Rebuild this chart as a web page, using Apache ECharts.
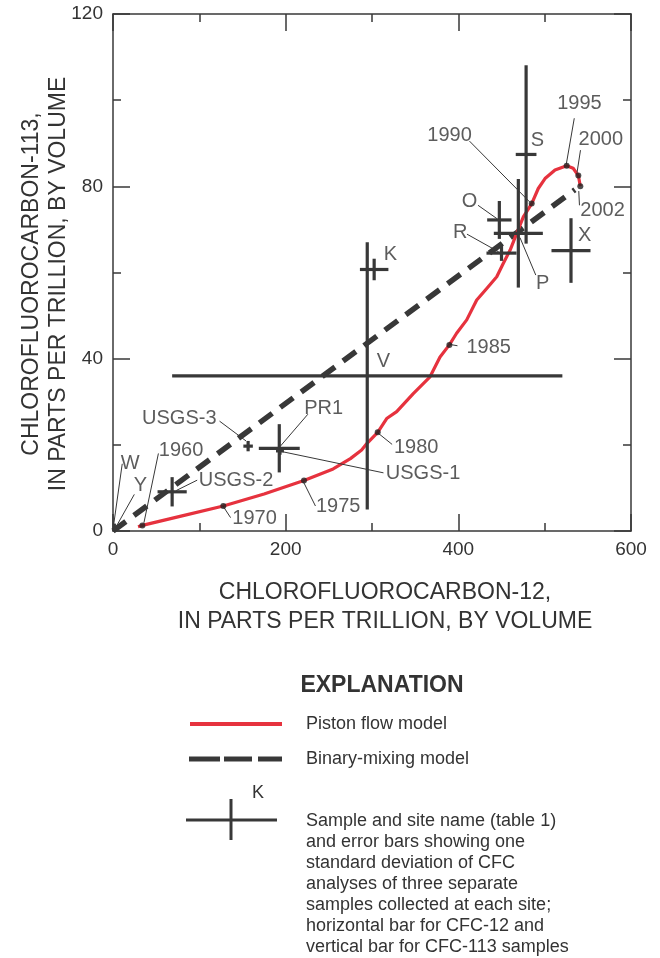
<!DOCTYPE html>
<html>
<head>
<meta charset="utf-8">
<script src="https://cdn.jsdelivr.net/npm/echarts@6/dist/echarts.min.js"></script>
<style>
html,body{margin:0;padding:0;background:#fff;}
#chart{width:660px;height:958px;}
</style>
</head>
<body>
<div id="chart"></div>
<script>
// ---------- DATA ----------
const xTickValues = [0, 200, 400, 600];
const yTickValues = [0, 40, 80, 120];

// Piston flow model curve (CFC-12, CFC-113)
const pistonCFC12  = [29, 34, 80, 127.8, 175, 221.2, 255, 275, 288, 294, 306.6, 317, 328.6, 347.8, 367.2, 378.8, 389.6, 398, 409.7, 421.3, 432.9, 444.5, 452, 460, 467.6, 475.3, 485, 492.6, 500.4, 512, 525.5, 533, 539, 541.3];
const pistonCFC113 = [1.0, 1.3, 3.5, 5.8, 8.6, 11.7, 14.4, 16.8, 18.8, 20.3, 22.9, 26.1, 27.7, 31.9, 35.8, 40.4, 43.2, 45.9, 49.0, 53.6, 56.3, 59.0, 62.1, 65.2, 69.1, 72.9, 76.0, 79.5, 81.8, 83.8, 84.8, 84.2, 82.5, 80.0];

// Year markers on the piston flow curve
const yearNames  = ['1960', '1970', '1975', '1980', '1985', '1990', '1995', '2000', '2002'];
const yearCFC12  = [34, 127.8, 221.2, 306.6, 389.6, 485, 525.5, 539, 541.3];
const yearCFC113 = [1.3, 5.8, 11.7, 22.9, 43.2, 76.0, 84.8, 82.5, 80.0];

// Binary-mixing model line
const binaryCFC12  = [0, 535];
const binaryCFC113 = [0, 79.2];

// Samples with one-standard-deviation error bars
const sampleNames  = ['K', 'V', 'S', 'O', 'P', 'R', 'X', 'PR1', 'USGS-1', 'USGS-3', 'USGS-2', 'W', 'Y'];
const sampleCFC12  = [302.5, 294.5, 478.5, 447.5, 469.5, 450, 530.5, 192.6, 193.4, 156.5, 68.5, 1.5, 2.5];
const sampleCFC113 = [60.7, 36, 87.4, 72.2, 69.1, 64.5, 65.1, 19.2, 18.6, 19.7, 9.1, 1.3, 0.5];
const sampleErr12  = [16.5, 226, 12, 14.1, 28.4, 17.4, 22.6, 23.7, 4.6, 5.5, 16.9, 1.5, 1.5];
const sampleErr113 = [2.5, 31, 20.7, 4.4, 12.6, 1.8, 7.5, 5.6, 0.9, 1.2, 3.4, 0.4, 0.4];

// Annotation labels (text, position in data units)
const labelTexts = ['1995', '2000', '2002', '1990', 'S', 'O', 'R', 'P', 'X', 'K', 'V', '1985', 'USGS-3', 'PR1', '1960', 'W', 'Y', 'USGS-2', '1980', 'USGS-1', '1975', '1970'];
const labelCFC12  = [540.3, 565, 567, 389.8, 491.7, 412.9, 402.1, 497.7, 546.3, 321.3, 313.3, 435.2, 76.8, 244, 78.8, 19.9, 31.9, 142.5, 351.2, 359.1, 260.8, 164];
const labelCFC113 = [99.3, 90.9, 74.3, 91.7, 90.6, 76.4, 69.4, 57.4, 68.5, 64.1, 39.3, 42.6, 26.2, 28.4, 18.7, 15.6, 10.6, 11.8, 19.5, 13.3, 5.6, 3.0];

// Leader lines (from label to point)
const leaderFrom12  = [534.3, 541.5, 539.5, 412.9, 422.8, 410, 489.7, 399, 123.4, 225.7, 52.6, 10.7, 24.7, 97.5, 323.3, 313.3, 234.5, 136.2];
const leaderFrom113 = [95.8, 88.4, 78.9, 90.5, 75.6, 68.9, 59.4, 43.0, 25.5, 27.1, 18.0, 15.6, 8.5, 11.8, 20.1, 13.5, 5.8, 3.1];
const leaderTo12    = [525.1, 537.5, 540.3, 482.5, 444.7, 446.7, 471.4, 390.2, 154.1, 193.9, 35.8, 0.8, 2.8, 73.3, 306.6, 193.9, 220.6, 127.4];
const leaderTo113   = [85.2, 83.2, 75.6, 76.4, 72.5, 64.8, 68.1, 43.3, 20.9, 19.7, 1.9, 1.5, 0.7, 9.4, 22.8, 18.5, 11.4, 5.8];

// ---------- CHART ----------
const INK = '#383838';
const RED = '#e6323e';
const FONT = '"Liberation Sans", Arial, sans-serif';

const chart = echarts.init(document.getElementById('chart'), null, {renderer: 'canvas'});

const pistonData = pistonCFC12.map((x, i) => [x, pistonCFC113[i]]);
const yearData = yearCFC12.map((x, i) => [x, yearCFC113[i], yearNames[i]]);
const binaryData = binaryCFC12.map((x, i) => [x, binaryCFC113[i]]);
const sampleData = sampleNames.map((n, i) => [sampleCFC12[i], sampleCFC113[i], sampleErr12[i], sampleErr113[i], n]);
const labelData = labelTexts.map((t, i) => ({value: [labelCFC12[i], labelCFC113[i]], name: t}));
const leaderData = leaderFrom12.map((x, i) => ({coords: [[x, leaderFrom113[i]], [leaderTo12[i], leaderTo113[i]]]}));

function axisCommon(showLabels, position, isX) {
  return {
    type: 'value',
    position: position,
    min: 0,
    max: isX ? 600 : 120,
    interval: isX ? 200 : 40,
    axisLine: {show: true, onZero: false, lineStyle: {color: INK, width: 1.5}},
    axisTick: {show: true, inside: true, length: 17, lineStyle: {color: INK, width: 1.5}},
    minorTick: {show: true, splitNumber: 2, length: 8, lineStyle: {color: INK, width: 1.5}},
    splitLine: {show: false},
    minorSplitLine: {show: false},
    axisLabel: {
      show: showLabels,
      color: '#333',
      fontSize: 19,
      fontFamily: FONT,
      margin: isX ? 9 : 10,
      formatter: v => ((isX ? xTickValues : yTickValues).indexOf(v) >= 0 ? String(v) : '')
    }
  };
}

const option = {
  animation: false,
  backgroundColor: '#fff',
  grid: {left: 113, top: 14, width: 518, height: 517, containLabel: false},
  xAxis: [axisCommon(true, 'bottom', true), axisCommon(false, 'top', true)],
  yAxis: [axisCommon(true, 'left', false), axisCommon(false, 'right', false)],
  series: [
    {
      type: 'line',
      name: 'Binary-mixing model',
      data: binaryData,
      showSymbol: false,
      symbol: 'none',
      lineStyle: {color: INK, width: 5.5, type: [16, 10], cap: 'butt'},
      z: 2
    },
    {
      type: 'line',
      name: 'Piston flow model',
      data: pistonData,
      showSymbol: false,
      symbol: 'none',
      lineStyle: {color: RED, width: 3.2},
      z: 3
    },
    {
      type: 'custom',
      name: 'Samples',
      data: sampleData,
      encode: {x: 0, y: 1},
      z: 4,
      renderItem: function (params, api) {
        const x = api.value(0), y = api.value(1), ex = api.value(2), ey = api.value(3);
        const l = api.coord([x - ex, y]), r = api.coord([x + ex, y]);
        const t = api.coord([x, y + ey]), b = api.coord([x, y - ey]);
        const st = {stroke: INK, lineWidth: 3.2};
        return {
          type: 'group',
          children: [
            {type: 'line', shape: {x1: l[0], y1: l[1], x2: r[0], y2: r[1]}, style: st},
            {type: 'line', shape: {x1: t[0], y1: t[1], x2: b[0], y2: b[1]}, style: st}
          ]
        };
      }
    },
    {
      type: 'lines',
      coordinateSystem: 'cartesian2d',
      data: leaderData,
      lineStyle: {color: INK, width: 1, opacity: 1},
      symbol: 'none',
      silent: true,
      z: 5
    },
    {
      type: 'scatter',
      name: 'Years',
      data: yearData,
      symbol: 'circle',
      symbolSize: 6,
      itemStyle: {color: '#222'},
      z: 6
    },
    {
      type: 'scatter',
      name: 'Labels',
      data: labelData,
      symbolSize: 0,
      silent: true,
      label: {
        show: true,
        position: 'inside',
        formatter: p => p.name,
        color: '#333',
        fontSize: 20,
        fontFamily: FONT
      },
      z: 7
    }
  ],
  graphic: [
    // X axis title
    {type: 'text', x: 385, y: 578, style: {text: 'CHLOROFLUOROCARBON-12,\nIN PARTS PER TRILLION, BY VOLUME', textAlign: 'center', textVerticalAlign: 'top', fill: '#333', font: '23px ' + FONT, lineHeight: 29}},
    // Y axis title
    {type: 'text', x: 18, y: 284, rotation: Math.PI / 2,
     style: {text: 'CHLOROFLUOROCARBON-113,\nIN PARTS PER TRILLION, BY VOLUME', textAlign: 'center', textVerticalAlign: 'top', fill: '#333', font: '23px ' + FONT, lineHeight: 27}},
    // Legend
    {type: 'text', x: 382, y: 686, style: {text: 'EXPLANATION', textAlign: 'center', textVerticalAlign: 'middle', fill: '#333', font: 'bold 23px ' + FONT}},
    {type: 'rect', shape: {x: 190, y: 722, width: 92, height: 4}, style: {fill: RED}},
    {type: 'text', x: 306, y: 724, style: {text: 'Piston flow model', textVerticalAlign: 'middle', fill: '#333', font: '18px ' + FONT}},
    {type: 'rect', shape: {x: 189, y: 756.5, width: 31, height: 5}, style: {fill: INK}},
    {type: 'rect', shape: {x: 224, y: 756.5, width: 28, height: 5}, style: {fill: INK}},
    {type: 'rect', shape: {x: 258, y: 756.5, width: 24, height: 5}, style: {fill: INK}},
    {type: 'text', x: 306, y: 759, style: {text: 'Binary-mixing model', textVerticalAlign: 'middle', fill: '#333', font: '18px ' + FONT}},
    {type: 'rect', shape: {x: 186, y: 818.5, width: 91, height: 3}, style: {fill: INK}},
    {type: 'rect', shape: {x: 229.5, y: 799, width: 3, height: 41}, style: {fill: INK}},
    {type: 'text', x: 258, y: 793, style: {text: 'K', textAlign: 'center', textVerticalAlign: 'middle', fill: '#333', font: '18px ' + FONT}},
    {type: 'text', x: 306, y: 811, style: {text: 'Sample and site name (table 1)\nand error bars showing one\nstandard deviation of CFC\nanalyses of three separate\nsamples collected at each site;\nhorizontal bar for CFC-12 and\nvertical bar for CFC-113 samples', textVerticalAlign: 'top', fill: '#333', font: '18px ' + FONT, lineHeight: 21}}
  ]
};
chart.setOption(option);
</script>
</body>
</html>
